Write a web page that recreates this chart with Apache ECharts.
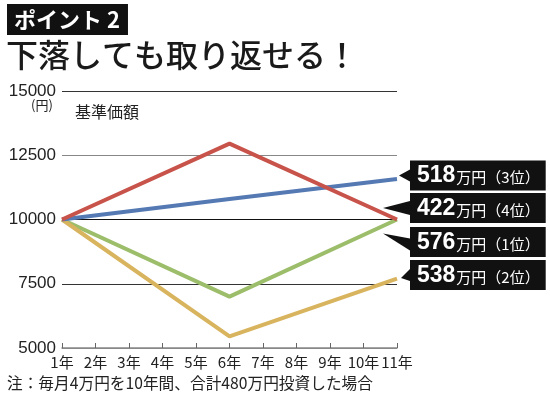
<!DOCTYPE html>
<html><head><meta charset="utf-8">
<script src="https://cdn.jsdelivr.net/npm/echarts@6/dist/echarts.min.js"></script>
<style>html,body{margin:0;padding:0;background:#fff}#c{width:550px;height:401px}</style>
</head><body><div id="c"></div>
<script>
const years = ['1年','2年','3年','4年','5年','6年','7年','8年','9年','10年','11年'];
const yTicks = [5000, 7500, 10000, 12500, 15000];
// values read at 1年, 6年 and 11年 (lines are straight between them)
const fund518 = [10000,null,null,null,null,10800,null,null,null,null,11580];
const fund422 = [10000,null,null,null,null,12950,null,null,null,null,10000];
const fund576 = [10000,null,null,null,null,7000,null,null,null,null,10000];
const fund538 = [10000,null,null,null,null,5450,null,null,null,null,7700];
const amounts = ['518','422','576','538'];
const ranks = ['3位','4位','1位','2位'];
const colors = ['#5479b3','#c8534a','#9cbd6a','#d9b45e'];

const CJK = '"Noto Sans CJK JP", "Liberation Sans", sans-serif';
const NUM = '"Liberation Sans Narrow", "Liberation Sans", sans-serif';

function callout(i, data, path, size, offset) {
  const last = data.length - 1;
  return {
    silent: true,
    animation: false,
    symbol: path,
    symbolSize: size,
    symbolOffset: offset,
    itemStyle: { color: '#111' },
    label: {
      show: true,
      position: 'right',
      distance: 0,
      backgroundColor: '#111',
      padding: [4, 6, 3, 7],
      formatter: '{n|' + amounts[i] + '}{u|万円}{r|（' + ranks[i] + '）}',
      rich: {
        n: { color: '#fff', fontSize: 23, fontWeight: 'bold', fontFamily: NUM },
        u: { color: '#fff', fontSize: 15, fontFamily: CJK, padding: [3, 0, 0, 1] },
        r: { color: '#fff', fontSize: 15, fontFamily: CJK, padding: [3, 0, 0, 0] }
      }
    },
    data: [{ coord: [years[last], data[last]] }]
  };
}

const seriesData = [fund518, fund422, fund576, fund538];
const arrowDefs = [
  ['path://M0,6L11,0L11,12Z', [11, 12], [7.5, -3.5]],
  ['path://M0,7L27,0L27,14Z', [27, 14], [-0.5, -11.5]],
  ['path://M0,0L27,5L27,17Z', [27, 17], [-0.5, 22.5]],
  ['path://M0,9L9,0L9,12Z', [9, 12], [8.5, -3.5]]
];

const chart = echarts.init(document.getElementById('c'), null, { renderer: 'canvas' });
chart.setOption({
  animation: false,
  backgroundColor: '#fff',
  title: [
    { text: 'ポイント 2', left: 7, top: 4, backgroundColor: '#111', padding: [5, 8, 4, 7],
      textStyle: { color: '#fff', fontSize: 22, fontWeight: 'bold', fontFamily: CJK } },
    { text: '下落しても取り返せる！', left: 6, top: 39, padding: 0,
      textStyle: { color: '#1a1a1a', fontSize: 32, fontWeight: 500, fontFamily: CJK } }
  ],
  grid: { left: 62, right: 153, top: 91, bottom: 53 },
  xAxis: {
    type: 'category', data: years, boundaryGap: false,
    axisLine: { lineStyle: { color: '#888', width: 1.5 } },
    axisTick: { inside: true, length: 5, interval: 0, lineStyle: { color: '#666' } },
    axisLabel: { color: '#222', fontSize: 15, margin: 7, interval: 0, fontFamily: CJK },
    splitLine: { show: false }
  },
  yAxis: {
    type: 'value', min: yTicks[0], max: yTicks[yTicks.length - 1], interval: 2500,
    axisLine: { show: false }, axisTick: { show: false },
    axisLabel: { color: '#222', fontSize: 17, margin: 6, formatter: v => String(v),
      fontFamily: '"Liberation Sans", sans-serif' },
    splitLine: { lineStyle: { color: ['#888', '#333', '#111', '#888', '#333'], width: 1 } }
  },
  graphic: [
    { type: 'text', left: 31, top: 99, style: { text: '(円)', fill: '#222', font: '13px ' + CJK } },
    { type: 'text', left: 75, top: 104, style: { text: '基準価額', fill: '#222', font: '16px ' + CJK } },
    { type: 'text', left: 7, top: 375, style: { text: '注：毎月4万円を10年間、合計480万円投資した場合', fill: '#222', font: '15.7px ' + CJK } }
  ],
  series: seriesData.map((d, i) => ({
    type: 'line',
    data: d,
    connectNulls: true,
    symbol: 'none',
    lineStyle: { color: colors[i], width: 4 },
    itemStyle: { color: colors[i] },
    z: [3, 4, 2, 2][i],
    markPoint: callout(i, d, arrowDefs[i][0], arrowDefs[i][1], arrowDefs[i][2])
  }))
});
</script></body></html>
